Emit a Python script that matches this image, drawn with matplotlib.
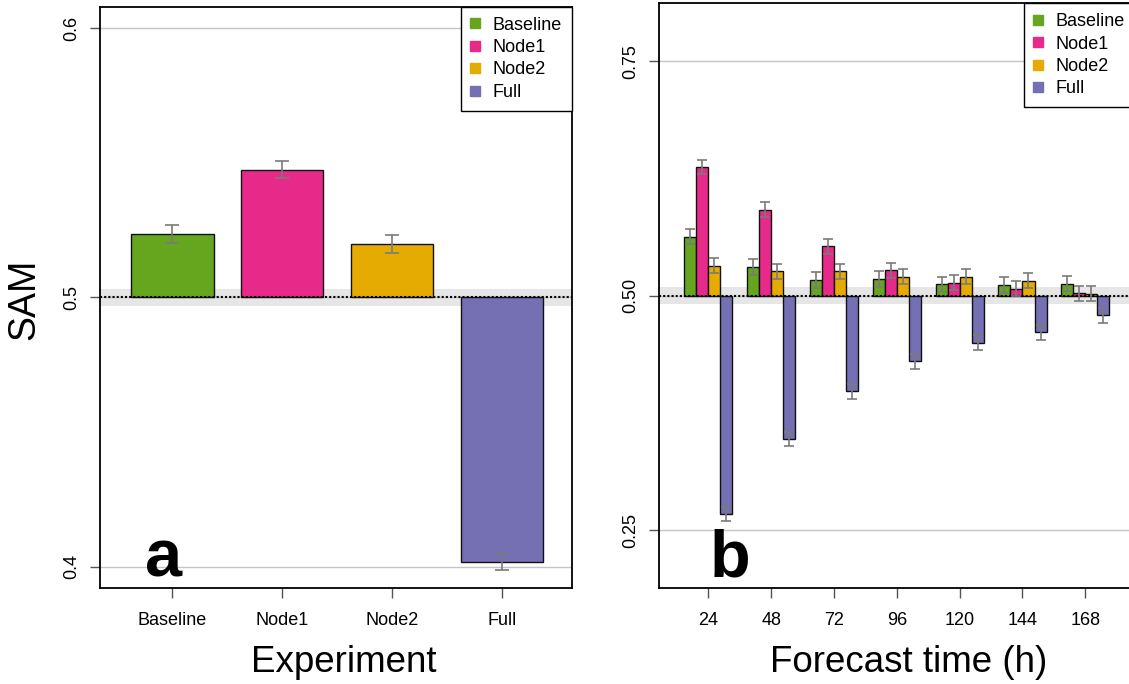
import matplotlib
matplotlib.use('Agg')
import matplotlib.pyplot as plt
from matplotlib.lines import Line2D
import numpy as np

plt.rcParams['font.family'] = ['Liberation Sans', 'DejaVu Sans']

# panel a: mean SAM per experiment
experiments = ['Baseline', 'Node1', 'Node2', 'Full']
sam_a = [0.5235, 0.5475, 0.5198, 0.4019]
err_a = [0.0033, 0.0033, 0.0033, 0.0033]
band_a = 0.0033

# panel b: SAM by forecast lead time
hours = [24, 48, 72, 96, 120, 144, 168]
baseline_b = [0.563, 0.531, 0.517, 0.518, 0.512, 0.511, 0.513]
node1_b = [0.637, 0.592, 0.553, 0.527, 0.514, 0.5075, 0.5025]
node2_b = [0.532, 0.526, 0.526, 0.520, 0.520, 0.516, 0.502]
full_b = [0.267, 0.347, 0.398, 0.430, 0.450, 0.461, 0.479]
err_baseline_b = [0.008, 0.0085, 0.0085, 0.0085, 0.0085, 0.0085, 0.008]
err_node1_b = [0.0075, 0.008, 0.008, 0.008, 0.008, 0.008, 0.008]
err_node2_b = [0.008, 0.008, 0.0083, 0.008, 0.008, 0.008, 0.008]
err_full_b = [0.0073, 0.0078, 0.008, 0.008, 0.008, 0.008, 0.008]
band_b = 0.009

colors = ['#66A61E', '#E7298A', '#E6AB02', '#7570B3']
W, H = 1129, 684

fig = plt.figure(figsize=(W / 100, H / 100), dpi=100)

def px_axes(l, t, r, b):
    return fig.add_axes([l / W, 1 - b / H, (r - l) / W, (b - t) / H])

ax1 = px_axes(100, 6.7, 571.5, 587.7)
ax2 = px_axes(659, 3.3, 1134.6, 587.7)

def style(ax, yticks, ylabels):
    ax.set_yticks(yticks)
    ax.set_yticklabels(ylabels)
    for y in yticks:
        ax.axhline(y, color='#c4c4c4', lw=1, zorder=0.6)
    ax.tick_params(axis='both', length=7.2, width=1, color='#555555', labelsize=13)
    ax.tick_params(axis='x', pad=10)
    ax.tick_params(axis='y', pad=7)
    for lab in ax.get_yticklabels():
        lab.set_rotation(90)
        lab.set_va('center')
    for s in ax.spines.values():
        s.set_linewidth(1.3)

def legend(ax):
    handles = [Line2D([], [], marker='s', ls='none', markersize=6.5,
                      markerfacecolor=c, markeredgecolor=c) for c in colors]
    lg = ax.legend(handles, experiments, loc='upper right', borderaxespad=0,
                   fancybox=False, edgecolor='black', framealpha=1, fontsize=13,
                   handlelength=0.5, handletextpad=0.7, borderpad=0.55,
                   labelspacing=0.3)
    lg.get_frame().set_linewidth(1)
    lg.set_zorder(10)

# ---- panel a ----
xa = np.arange(len(experiments))
ax1.axhspan(0.5 - band_a, 0.5 + band_a, color='#e6e6e6', lw=0, zorder=0.5)
ax1.bar(xa, np.array(sam_a) - 0.5, bottom=0.5, width=0.75, color=colors,
        edgecolor='#111111', linewidth=1, zorder=2)
ax1.axhline(0.5, color='black', ls=(0, (1, 1)), lw=1.5, zorder=3)
ax1.errorbar(xa, sam_a, yerr=err_a, fmt='none', ecolor='#7a7a7a',
             elinewidth=1.2, capsize=5, capthick=1.2, zorder=4)
ax1.set_xlim(-0.66, 3.636)
ax1.set_ylim(0.3922, 0.608)
ax1.set_xticks(xa)
ax1.set_xticklabels(experiments)
style(ax1, [0.4, 0.5, 0.6], ['0.4', '0.5', '0.6'])
legend(ax1)
ax1.text(-0.085, 0.3965, 'a', fontsize=48, fontweight='bold', ha='center', va='baseline', zorder=5)

# ---- panel b ----
xb = np.array(hours, dtype=float)
bw = 4.6
series = [baseline_b, node1_b, node2_b, full_b]
errs = [err_baseline_b, err_node1_b, err_node2_b, err_full_b]
ax2.axhspan(0.5 - band_b, 0.5 + band_b, color='#e6e6e6', lw=0, zorder=0.5)
for i, (vals, e, c) in enumerate(zip(series, errs, colors)):
    xs = xb + (i - 1.5) * bw
    ax2.bar(xs, np.array(vals) - 0.5, bottom=0.5, width=bw, color=c,
            edgecolor='#111111', linewidth=1, zorder=2)
    ax2.errorbar(xs, vals, yerr=e, fmt='none', ecolor='#7a7a7a',
                 elinewidth=1.2, capsize=3.6, capthick=1.2, zorder=4)
ax2.axhline(0.5, color='black', ls=(0, (1, 1)), lw=1.5, zorder=3)
ax2.set_xlim(5.17, 186.83)
ax2.set_ylim(0.1885, 0.812)
ax2.set_xticks(hours)
ax2.set_xticklabels([str(h) for h in hours])
style(ax2, [0.25, 0.5, 0.75], ['0.25', '0.50', '0.75'])
legend(ax2)
ax2.text(32.3, 0.2, 'b', fontsize=48, fontweight='bold', ha='center', va='baseline', zorder=5)

# axis titles
fig.text(344 / W, 1 - 662 / H, 'Experiment', fontsize=26.5, ha='center', va='center')
fig.text(909 / W, 1 - 662 / H, 'Forecast time (h)', fontsize=26.5, ha='center', va='center')
fig.text(24 / W, 1 - 299 / H, 'SAM', fontsize=27, ha='center', va='center', rotation=90)

fig.savefig('out.png', dpi=100)
